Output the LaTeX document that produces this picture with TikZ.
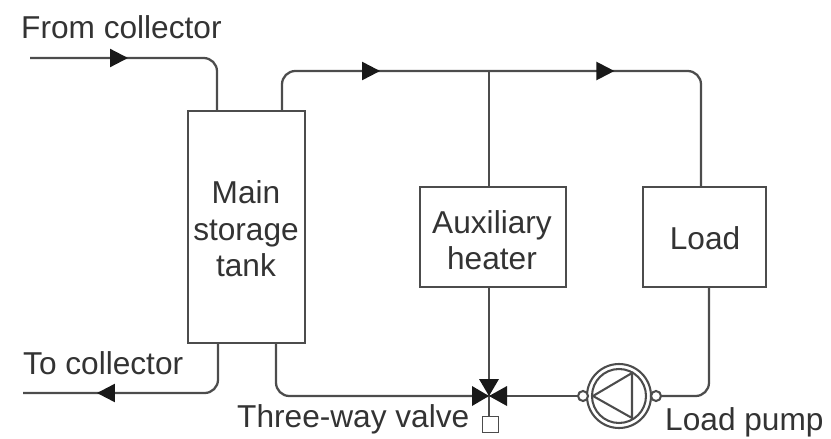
\documentclass[tikz,border=0pt]{standalone}
\usepackage{fontspec}
\setmainfont{Liberation Sans}
\usetikzlibrary{arrows.meta,decorations.markings}

\definecolor{pipegray}{gray}{0.3}
\tikzset{
  flowhead/.tip={Triangle[length=5.4mm,width=5.4mm,color=black!90]},
  pipe/.style={draw=pipegray,line width=0.68mm,rounded corners=4mm},
  flowtip/.style={postaction={decorate},decoration={markings,mark=at position #1 with {\arrow{flowhead}}}},
  flowtips/.style 2 args={postaction={decorate},decoration={markings,
    mark=at position #1 with {\arrow{flowhead}},
    mark=at position #2 with {\arrow{flowhead}}}},
  unitbox/.style={draw=pipegray,line width=0.68mm,fill=white,align=center,inner sep=0pt},
  caption/.style={text=black!80,font=\fontsize{27}{31}\selectfont,align=center,inner sep=0pt},
  ring/.style={circle,draw=pipegray,line width=0.62mm,inner sep=0pt},
}

\begin{document}
\begin{tikzpicture}[x=0.3mm,y=-0.3mm]
  \useasboundingbox (0,0) rectangle (831,438);
  % boxes
  \node[unitbox,minimum width=35.1mm,minimum height=69.6mm] (tank) at (246.5,227) {};
  \node[unitbox,minimum width=43.8mm,minimum height=30mm] (heater) at (493,237) {};
  \node[unitbox,minimum width=36.9mm,minimum height=30mm] (load) at (704.5,237) {};
  \node[caption] (tanktext) at (246,229) {Main\\storage\\tank};
  \node[caption] (heatertext) at (492,240) {Auxiliary\\heater};
  \node[caption] (loadtext) at (705,238) {Load};
  % pipe ends
  \coordinate (collin) at (30,58);
  \coordinate (collout) at (23,393);
  \coordinate (tankin) at (217,111);
  \coordinate (tankdrain) at (218,343);
  \coordinate (tankout) at (282,111);
  \coordinate (tankret) at (276,343);
  \coordinate (topright) at (701,71);
  \coordinate (tee) at (489,71);
  \coordinate (loadin) at (701,187);
  \coordinate (loadout) at (709,287);
  \coordinate (heaterin) at (489,187);
  \coordinate (heaterout) at (489,287);
  \coordinate (valve) at (489,396);
  % pump
  \node[ring,minimum size=19.2mm] (pump) at (619,396) {};
  \node[ring,minimum size=16.2mm] (pumpinner) at (619,396) {};
  \node[ring,minimum size=3mm,fill=white] (pumpin) at (583,396) {};
  \node[ring,minimum size=3mm,fill=white] (pumpout) at (656,396) {};
  \draw[draw=pipegray,line width=0.62mm] (593,396) -- (632,373) -- (632,418) -- cycle;
  % pipes
  \draw[pipe,flowtip=29.4mm] (collin) -| (tankin);
  \draw[pipe,flowtip=49.6mm] (tankdrain) |- (collout);
  \draw[pipe,flowtips={39.7mm}{110mm}] (tankout) |- (topright) -- (loadin);
  \draw[pipe] (tankret) |- (valve);
  \draw[pipe] (tee) -- (heaterin);
  \draw[pipe] (heaterout) -- (valve);
  \draw[pipe] (valve) -- (pumpin);
  \draw[pipe] (loadout) |- (pumpout);
  % valve
  \node[draw=pipegray,line width=0.5mm,minimum size=4.8mm,inner sep=0pt] (actuator) at (490.5,424.5) {};
  \draw[pipe] (valve) -- (actuator.north -| valve);
  \fill[black!90] (valve) -- ++(-10,-17) -- ++(20,0) -- cycle;
  \fill[black!90] (valve) -- ++(-17,-10) -- ++(0,20) -- cycle;
  \fill[black!90] (valve) -- ++(18,-10) -- ++(0,20) -- cycle;
  % labels
  \node[caption,anchor=west] (fromlabel) at (21,27) {From collector};
  \node[caption,anchor=west] (tolabel) at (23,363) {To collector};
  \node[caption,anchor=west] (valvelabel) at (237,419) {Three-way valve};
  \node[caption,anchor=west] (pumplabel) at (665,422) {Load pump};
\end{tikzpicture}
\end{document}
